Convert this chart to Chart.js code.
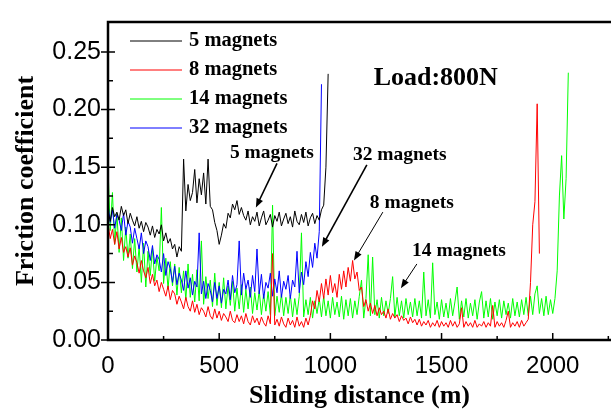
<!DOCTYPE html>
<html>
<head>
<meta charset="utf-8">
<script src="https://cdn.jsdelivr.net/npm/chart.js@4"></script>
<style>
  html, body { margin: 0; padding: 0; background: #fff; }
  #wrap { width: 611px; height: 412px; }
</style>
</head>
<body>
<div id="wrap"><canvas id="frictionChart" width="611" height="412"></canvas></div>
<script>
// sliding distance (m), shared by all runs
const distance = [
  0,10,20,30,40,50,60,70,80,90,100,110,120,130,140,150,160,170,180,190,
  200,210,220,230,240,250,260,270,280,290,300,310,320,330,340,350,360,370,380,390,
  400,410,420,430,440,450,460,470,480,490,500,510,520,530,540,550,560,570,580,590,
  600,610,620,630,640,650,660,670,680,690,700,710,720,730,740,750,760,770,780,790,
  800,810,820,830,840,850,860,870,880,890,900,910,920,930,940,950,960,970,980,990,
  1000,1010,1020,1030,1040,1050,1060,1070,1080,1090,1100,1110,1120,1130,1140,1150,1160,1170,1180,1190,
  1200,1210,1220,1230,1240,1250,1260,1270,1280,1290,1300,1310,1320,1330,1340,1350,1360,1370,1380,1390,
  1400,1410,1420,1430,1440,1450,1460,1470,1480,1490,1500,1510,1520,1530,1540,1550,1560,1570,1580,1590,
  1600,1610,1620,1630,1640,1650,1660,1670,1680,1690,1700,1710,1720,1730,1740,1750,1760,1770,1780,1790,
  1800,1810,1820,1830,1840,1850,1860,1870,1880,1890,1900,1910,1920,1930,1940,1950,1960,1970,1980,1990,
  2000,2010,2020,2030,2040,2050,2060,2070
];

// friction coefficient
const mag5 = [
  0.112,0.103,0.115,0.107,0.111,0.104,0.116,0.108,0.113,0.101,
  0.110,0.104,0.099,0.107,0.097,0.103,0.094,0.102,0.098,0.091,
  0.099,0.089,0.096,0.092,0.100,0.086,0.093,0.084,0.088,0.079,
  0.083,0.072,0.081,0.077,0.157,0.112,0.135,0.121,0.128,0.148,
  0.119,0.140,0.126,0.145,0.118,0.157,0.116,0.113,0.102,0.095,
  0.083,0.091,0.101,0.097,0.110,0.106,0.118,0.113,0.121,0.109,
  0.115,0.108,0.104,0.112,0.100,0.107,0.103,0.111,0.099,0.106,
  0.112,0.100,0.104,0.109,0.098,0.108,0.103,0.111,0.099,0.105,
  0.110,0.101,0.107,0.098,0.112,0.103,0.100,0.109,0.102,0.111,
  0.099,0.106,0.110,0.101,0.108,0.104,0.113,0.117,0.150,0.231
];

const mag8 = [
  0.101,0.088,0.096,0.083,0.094,0.079,0.089,0.076,0.081,0.072,
  0.080,0.065,0.073,0.067,0.058,0.069,0.060,0.054,0.063,0.049,
  0.057,0.047,0.052,0.042,0.050,0.044,0.038,0.047,0.035,0.043,
  0.040,0.031,0.038,0.033,0.027,0.037,0.029,0.025,0.034,0.024,
  0.031,0.022,0.028,0.025,0.020,0.029,0.021,0.018,0.027,0.019,
  0.025,0.017,0.023,0.020,0.016,0.025,0.017,0.015,0.022,0.016,
  0.021,0.014,0.023,0.016,0.013,0.021,0.015,0.019,0.013,0.020,
  0.015,0.012,0.021,0.014,0.075,0.013,0.018,0.012,0.020,0.014,
  0.011,0.019,0.013,0.017,0.011,0.020,0.012,0.016,0.011,0.019,
  0.013,0.021,0.034,0.027,0.043,0.033,0.049,0.036,0.053,0.039,
  0.056,0.041,0.049,0.037,0.057,0.044,0.060,0.046,0.063,0.051,
  0.069,0.053,0.059,0.043,0.046,0.029,0.035,0.025,0.032,0.023,
  0.030,0.021,0.028,0.022,0.025,0.019,0.027,0.018,0.023,0.019,
  0.022,0.016,0.021,0.017,0.019,0.014,0.020,0.015,0.018,0.013,
  0.018,0.012,0.016,0.013,0.017,0.011,0.015,0.012,0.017,0.011,
  0.016,0.012,0.015,0.011,0.017,0.012,0.016,0.011,0.014,0.028,
  0.011,0.016,0.012,0.015,0.011,0.017,0.011,0.014,0.012,0.016,
  0.011,0.015,0.012,0.030,0.011,0.016,0.012,0.015,0.011,0.017,
  0.025,0.011,0.015,0.012,0.016,0.011,0.017,0.012,0.015,0.018,
  0.050,0.100,0.120,0.205,0.075
];

const mag14 = [
  0.150,0.095,0.128,0.083,0.110,0.076,0.106,0.069,0.098,0.071,
  0.092,0.062,0.088,0.059,0.081,0.050,0.084,0.046,0.077,0.056,
  0.080,0.051,0.072,0.060,0.115,0.049,0.071,0.044,0.068,0.047,
  0.066,0.039,0.063,0.041,0.060,0.035,0.066,0.037,0.057,0.033,
  0.061,0.034,0.086,0.031,0.055,0.036,0.052,0.029,0.058,0.030,
  0.050,0.028,0.054,0.027,0.047,0.030,0.051,0.025,0.045,0.027,
  0.048,0.024,0.044,0.027,0.046,0.023,0.041,0.026,0.043,0.022,
  0.040,0.025,0.042,0.022,0.117,0.021,0.038,0.024,0.040,0.021,
  0.037,0.023,0.039,0.020,0.036,0.022,0.038,0.093,0.020,0.035,
  0.022,0.037,0.019,0.034,0.023,0.036,0.020,0.038,0.021,0.034,
  0.019,0.037,0.022,0.033,0.020,0.038,0.018,0.035,0.021,0.036,
  0.019,0.034,0.022,0.038,0.052,0.019,0.036,0.074,0.021,0.072,
  0.022,0.035,0.019,0.037,0.021,0.034,0.023,0.036,0.055,0.020,
  0.037,0.021,0.034,0.019,0.036,0.022,0.033,0.020,0.036,0.021,
  0.034,0.019,0.059,0.021,0.035,0.019,0.067,0.022,0.033,0.018,
  0.035,0.020,0.032,0.019,0.036,0.021,0.033,0.046,0.018,0.034,
  0.020,0.036,0.019,0.032,0.021,0.035,0.018,0.033,0.042,0.019,
  0.034,0.020,0.036,0.018,0.033,0.021,0.035,0.019,0.034,0.022,
  0.032,0.019,0.036,0.021,0.033,0.020,0.035,0.022,0.037,0.021,
  0.038,0.022,0.040,0.047,0.023,0.036,0.021,0.038,0.022,0.035,
  0.023,0.036,0.060,0.125,0.160,0.105,0.140,0.232
];

const mag32 = [
  0.118,0.102,0.113,0.097,0.109,0.104,0.095,0.110,0.091,0.103,
  0.098,0.084,0.097,0.088,0.079,0.093,0.075,0.086,0.081,0.069,
  0.082,0.066,0.074,0.070,0.059,0.075,0.056,0.068,0.062,0.050,
  0.064,0.048,0.058,0.052,0.043,0.060,0.045,0.054,0.039,0.051,
  0.046,0.093,0.040,0.051,0.036,0.049,0.043,0.033,0.050,0.036,
  0.047,0.032,0.044,0.040,0.052,0.035,0.056,0.041,0.048,0.086,
  0.039,0.058,0.044,0.052,0.037,0.056,0.042,0.079,0.040,0.057,
  0.036,0.050,0.045,0.058,0.038,0.053,0.041,0.060,0.037,0.051,
  0.044,0.056,0.036,0.052,0.046,0.077,0.041,0.059,0.048,0.068,
  0.055,0.076,0.063,0.084,0.071,0.094,0.222
];

const seriesNames = ['5 magnets', '8 magnets', '14 magnets', '32 magnets'];
const seriesColors = ['#000000', '#ff0000', '#00ff00', '#0000ff'];
const seriesValues = [mag5, mag8, mag14, mag32];

const xTicks = [0, 500, 1000, 1500, 2000];
const yTicks = [0, 0.05, 0.10, 0.15, 0.20, 0.25];
const xTicksMinor = [250, 750, 1250, 1750, 2250];
const yTicksMinor = [0.025, 0.075, 0.125, 0.175, 0.225];

// callouts: label text, label centre, arrow tail and tip (data coords)
const callouts = [
  { text: '5 magnets', at: [737, 0.1625], from: [760, 0.1533], to: [665, 0.115], w: 1.6 },
  { text: '32 magnets', at: [1312, 0.161], from: [1164, 0.152], to: [962, 0.081], w: 1.6 },
  { text: '8 magnets', at: [1366, 0.119], from: [1236, 0.111], to: [1106, 0.069], w: 1 },
  { text: '14 magnets', at: [1578, 0.077], from: [1389, 0.066], to: [1317, 0.045], w: 1 }
];

const serif = "'Liberation Serif', 'Times New Roman', serif";
const sans = "'Liberation Sans', Arial, sans-serif";

function arrow(ctx, x1, y1, x2, y2, w) {
  const ang = Math.atan2(y2 - y1, x2 - x1);
  const hl = 9, hw = 3.5;
  ctx.save();
  ctx.strokeStyle = '#000';
  ctx.fillStyle = '#000';
  ctx.lineWidth = w;
  ctx.beginPath();
  ctx.moveTo(x1, y1);
  ctx.lineTo(x2 - Math.cos(ang) * hl * 0.8, y2 - Math.sin(ang) * hl * 0.8);
  ctx.stroke();
  ctx.beginPath();
  ctx.moveTo(x2, y2);
  ctx.lineTo(x2 - Math.cos(ang) * hl - Math.sin(ang) * hw, y2 - Math.sin(ang) * hl + Math.cos(ang) * hw);
  ctx.lineTo(x2 - Math.cos(ang) * hl + Math.sin(ang) * hw, y2 - Math.sin(ang) * hl - Math.cos(ang) * hw);
  ctx.closePath();
  ctx.fill();
  ctx.restore();
}

const decorations = {
  id: 'decorations',
  afterDatasetsDraw(chart) {
    const ctx = chart.ctx;
    const a = chart.chartArea;
    const xs = chart.scales.x, ys = chart.scales.y;
    ctx.save();

    // frame
    ctx.strokeStyle = '#000';
    ctx.lineWidth = 2.5;
    ctx.beginPath();
    ctx.moveTo(chart.width, a.top);
    ctx.lineTo(a.left, a.top);
    ctx.lineTo(a.left, a.bottom);
    ctx.lineTo(chart.width, a.bottom);
    ctx.stroke();

    // ticks
    ctx.lineWidth = 1.5;
    ctx.beginPath();
    yTicks.forEach(v => {
      const y = ys.getPixelForValue(v);
      ctx.moveTo(a.left - 7, y); ctx.lineTo(a.left + 7, y);
    });
    yTicksMinor.forEach(v => {
      const y = ys.getPixelForValue(v);
      ctx.moveTo(a.left, y); ctx.lineTo(a.left + 5, y);
    });
    xTicks.forEach(v => {
      const x = xs.getPixelForValue(v);
      ctx.moveTo(x, a.bottom); ctx.lineTo(x, a.bottom - 7);
    });
    xTicksMinor.forEach(v => {
      const x = xs.getPixelForValue(v);
      ctx.moveTo(x, a.bottom); ctx.lineTo(x, a.bottom - 4);
    });
    ctx.stroke();

    // legend
    ctx.font = 'bold 20.5px ' + serif;
    ctx.textBaseline = 'middle';
    ctx.textAlign = 'left';
    seriesNames.forEach((name, i) => {
      const y = a.top + 19 + i * 29;
      ctx.strokeStyle = seriesColors[i];
      ctx.lineWidth = 1;
      ctx.beginPath();
      ctx.moveTo(a.left + 22, y);
      ctx.lineTo(a.left + 74, y);
      ctx.stroke();
      ctx.fillStyle = '#000';
      ctx.fillText(name, a.left + 81, y);
    });

    // load label
    ctx.font = 'bold 26px ' + serif;
    ctx.textAlign = 'center';
    ctx.fillText('Load:800N', xs.getPixelForValue(1474), ys.getPixelForValue(0.2275));

    // callouts
    ctx.font = 'bold 19.5px ' + serif;
    callouts.forEach(c => {
      ctx.fillStyle = '#000';
      ctx.fillText(c.text, xs.getPixelForValue(c.at[0]), ys.getPixelForValue(c.at[1]));
      arrow(ctx, xs.getPixelForValue(c.from[0]), ys.getPixelForValue(c.from[1]),
        xs.getPixelForValue(c.to[0]), ys.getPixelForValue(c.to[1]), c.w);
    });
    ctx.restore();
  }
};

const datasets = seriesValues.map((vals, i) => ({
  label: seriesNames[i],
  data: vals.map((v, k) => ({ x: distance[k], y: v })),
  borderColor: seriesColors[i],
  borderWidth: 1,
  pointRadius: 0,
  tension: 0,
  fill: false,
  order: [0, 1, 3, 2][i]
}));

const ctx = document.getElementById('frictionChart').getContext('2d');
const frictionChart = new Chart(ctx, {
  type: 'line',
  data: { datasets: datasets },
  options: {
    responsive: false,
    animation: false,
    layout: { padding: { top: 9, right: 0, left: 0, bottom: 0 } },
    plugins: { legend: { display: false }, tooltip: { enabled: false } },
    scales: {
      x: {
        type: 'linear',
        min: 0,
        max: 2262,
        grid: { display: false, drawTicks: false },
        border: { display: false },
        afterBuildTicks: s => { s.ticks = xTicks.map(v => ({ value: v })); },
        ticks: {
          autoSkip: false,
          maxRotation: 0,
          padding: 12,
          color: '#000',
          font: { family: sans, size: 24 },
          callback: v => String(v)
        },
        title: {
          display: true,
          text: 'Sliding distance (m)',
          color: '#000',
          font: { family: serif, size: 26, weight: 'bold' },
          padding: { top: 0, bottom: 0 }
        },
        afterFit: s => { s.height = 72; }
      },
      y: {
        min: 0,
        max: 0.276,
        grid: { display: false, drawTicks: false },
        border: { display: false },
        afterBuildTicks: s => { s.ticks = yTicks.map(v => ({ value: v })); },
        ticks: {
          autoSkip: false,
          padding: 7,
          color: '#000',
          font: { family: sans, size: 25 },
          callback: v => v.toFixed(2)
        },
        title: {
          display: true,
          text: 'Friction coefficient',
          color: '#000',
          font: { family: serif, size: 26, weight: 'bold' },
          padding: { top: 11, bottom: 0 }
        },
        afterFit: s => { s.width = 108; }
      }
    }
  },
  plugins: [decorations]
});
</script>
</body>
</html>
